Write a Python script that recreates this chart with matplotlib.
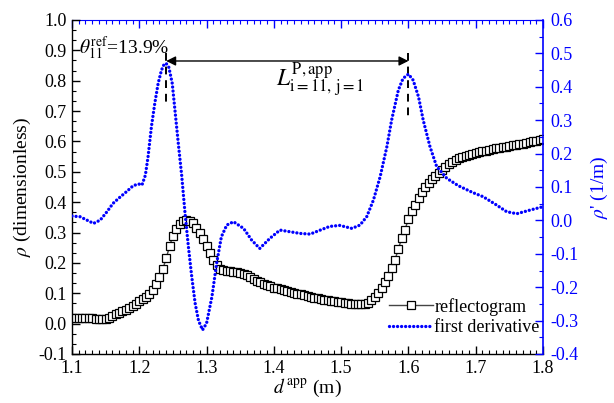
import numpy as np
import matplotlib
matplotlib.use("Agg")
import matplotlib.pyplot as plt
from matplotlib.ticker import MultipleLocator, AutoMinorLocator

plt.rcParams['font.family'] = ['Liberation Serif', 'DejaVu Serif']
plt.rcParams['mathtext.fontset'] = 'stix'
plt.rcParams['axes.unicode_minus'] = False

# reflectogram (left axis), sampled every 0.005 m
d_refl = np.linspace(1.1, 1.8, 141)
rho = [0.018, 0.018, 0.018, 0.018, 0.018, 0.018, 0.017, 0.016, 0.015, 0.015,
       0.016, 0.020, 0.026, 0.031, 0.035, 0.040, 0.045, 0.052, 0.059, 0.066,
       0.073, 0.080, 0.088, 0.098, 0.112, 0.130, 0.152, 0.180, 0.215, 0.255,
       0.290, 0.312, 0.327, 0.337, 0.341, 0.338, 0.330, 0.316, 0.298, 0.278,
       0.255, 0.232, 0.210, 0.192, 0.181, 0.176, 0.173, 0.172, 0.171, 0.169,
       0.167, 0.164, 0.159, 0.154, 0.148, 0.142, 0.137, 0.132, 0.127, 0.123,
       0.119, 0.116, 0.113, 0.110, 0.107, 0.104, 0.101, 0.098, 0.096, 0.093,
       0.091, 0.088, 0.085, 0.083, 0.081, 0.079, 0.077, 0.075, 0.073, 0.071,
       0.070, 0.068, 0.067, 0.066, 0.065, 0.064, 0.064, 0.064, 0.068, 0.077,
       0.088, 0.102, 0.118, 0.136, 0.158, 0.182, 0.210, 0.245, 0.282, 0.310,
       0.345, 0.372, 0.392, 0.414, 0.434, 0.449, 0.463, 0.475, 0.486, 0.497,
       0.507, 0.516, 0.525, 0.532, 0.539, 0.545, 0.549, 0.553, 0.557, 0.560,
       0.563, 0.566, 0.568, 0.570, 0.573, 0.575, 0.577, 0.579, 0.581, 0.583,
       0.585, 0.587, 0.588, 0.590, 0.592, 0.594, 0.597, 0.600, 0.603, 0.606,
       0.609]

# first derivative (right axis)
d_der = [1.100, 1.112, 1.122, 1.132, 1.142, 1.152, 1.161, 1.171, 1.181, 1.191,
         1.199, 1.204, 1.209, 1.213, 1.218, 1.223, 1.228, 1.233, 1.237, 1.240,
         1.244, 1.249, 1.253, 1.258, 1.263, 1.268, 1.273, 1.278, 1.283, 1.288,
         1.294, 1.300, 1.308, 1.315, 1.322, 1.330, 1.340, 1.355, 1.367, 1.379,
         1.394, 1.409, 1.424, 1.439, 1.454, 1.469, 1.483, 1.498, 1.516, 1.528,
         1.538, 1.548, 1.558, 1.568, 1.575, 1.585, 1.592, 1.600, 1.607, 1.615,
         1.622, 1.632, 1.642, 1.657, 1.674, 1.696, 1.711, 1.731, 1.746, 1.761,
         1.781, 1.800]
drho = [0.013, 0.011, 0.001, -0.009, 0.001, 0.026, 0.051, 0.069, 0.086, 0.104,
        0.109, 0.106, 0.135, 0.190, 0.280, 0.350, 0.410, 0.450, 0.468, 0.470,
        0.458, 0.410, 0.330, 0.230, 0.135, 0.021, -0.079, -0.169, -0.248, -0.300,
        -0.328, -0.308, -0.228, -0.128, -0.049, -0.014, -0.004, -0.024, -0.059, -0.084,
        -0.054, -0.029, -0.034, -0.039, -0.041, -0.029, -0.018, -0.015, -0.024, -0.014,
        0.011, 0.061, 0.131, 0.221, 0.300, 0.390, 0.425, 0.438, 0.420, 0.370,
        0.300, 0.221, 0.161, 0.126, 0.104, 0.083, 0.071, 0.046, 0.026, 0.020,
        0.031, 0.041]

peak1, peak2 = 1.24, 1.60

fig = plt.figure(figsize=(6.14, 4.03), dpi=100)
ax = fig.add_axes([72/614, 1 - 354/403, (543 - 72)/614, (354 - 20)/403])
ax2 = ax.twinx()

l1, = ax.plot(d_refl, rho, color='#444444', lw=1, marker='s', ms=5.5,
              mfc='white', mec='black', mew=0.9, label='reflectogram')
l2, = ax2.plot(d_der, drho, color='blue', lw=2.4, linestyle=(0, (0.01, 1.2)),
               dash_capstyle='round', label='first derivative')

ax.set_xlim(1.1, 1.8)
ax.set_ylim(-0.1, 1.0)
ax2.set_ylim(-0.4, 0.6)

ax.xaxis.set_major_locator(MultipleLocator(0.1))
ax.xaxis.set_minor_locator(MultipleLocator(0.01))
ax.yaxis.set_major_locator(MultipleLocator(0.1))
ax.yaxis.set_minor_locator(AutoMinorLocator(3))
ax2.yaxis.set_major_locator(MultipleLocator(0.1))
ax2.yaxis.set_minor_locator(MultipleLocator(0.05))
ax.xaxis.set_major_formatter(matplotlib.ticker.FormatStrFormatter('%.1f'))
ax.yaxis.set_major_formatter(matplotlib.ticker.FormatStrFormatter('%.1f'))
ax2.yaxis.set_major_formatter(matplotlib.ticker.FormatStrFormatter('%.1f'))

ax.tick_params(axis='both', which='major', direction='in', length=6, width=1,
               labelsize=13, pad=4)
ax.tick_params(axis='both', which='minor', direction='in', length=3, width=0.8)
ax2.tick_params(axis='y', which='major', direction='in', length=6, width=1,
                colors='blue', labelsize=13, pad=5)
ax2.tick_params(axis='y', which='minor', direction='in', length=3, width=0.8,
                colors='blue')

top = ax.secondary_xaxis('top')
top.xaxis.set_major_locator(MultipleLocator(0.1))
top.xaxis.set_minor_locator(MultipleLocator(0.01))
top.tick_params(axis='x', which='major', direction='in', length=6, width=1,
                colors='blue', labeltop=False)
top.tick_params(axis='x', which='minor', direction='in', length=3, width=0.8,
                colors='blue')
top.spines['top'].set_color('blue')

for a in (ax, ax2):
    a.spines['top'].set_visible(False)
    a.spines['right'].set_visible(False)
ax2.spines['left'].set_visible(False)
ax2.spines['bottom'].set_visible(False)
ax2.spines['right'].set_visible(True)
ax2.spines['right'].set_color('blue')
for s in ax.spines.values():
    s.set_linewidth(1)
ax2.spines['right'].set_linewidth(1.2)

ax.set_xlabel(r'$d^{\,\rm app}$ (m)', fontsize=14, labelpad=0)
ax.set_ylabel(r'$\rho$ (dimensionless)', fontsize=14, labelpad=4)
ax2.set_ylabel(r"$\rho$' (1/m)", fontsize=14, color='blue', labelpad=8)

# peak markers and distance arrow
ax.plot([peak1, peak1], [0.89, 0.726], color='black', lw=1.4, ls=(0, (4, 3)))
ax.plot([peak2, peak2], [0.89, 0.676], color='black', lw=1.4, ls=(0, (4, 3)))
ax.annotate('', xy=(peak1, 0.865), xytext=(peak2, 0.865),
            arrowprops=dict(arrowstyle='<|-|>', color='black', lw=1,
                            mutation_scale=14, shrinkA=0, shrinkB=0))
ax.text(1.403, 0.785, r'$L^{\mathrm{P,app}}_{\mathrm{i{=}11,\,j{=}1}}$', fontsize=17)
ax.text(1.111, 0.89, r'$\theta^{\rm ref}_{11}$=13.9%', fontsize=14)

leg = ax.legend([l1, l2], ['reflectogram', 'first derivative'],
                loc='lower right', bbox_to_anchor=(1.02, 0.015), frameon=False,
                fontsize=13, handlelength=2.4, handletextpad=0.1,
                labelspacing=0.2, borderaxespad=0.3)

fig.savefig('out.png', dpi=100)
